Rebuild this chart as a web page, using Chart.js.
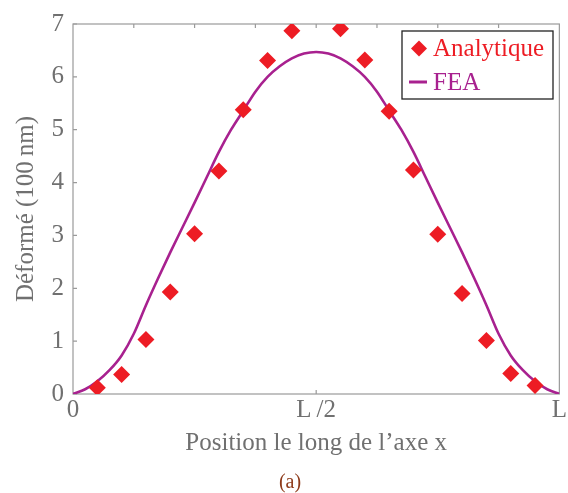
<!DOCTYPE html>
<html><head><meta charset="utf-8">
<script src="https://cdn.jsdelivr.net/npm/chart.js@4/dist/chart.umd.min.js"></script>
<style>html,body{margin:0;padding:0;background:#fff;} #wrap{width:568px;height:493px;position:relative;}</style>
</head><body><div id="wrap"><canvas id="c" width="568" height="493"></canvas></div>
<script>
// ---- data ----
const analytiqueX = [0.05,0.10,0.15,0.20,0.25,0.30,0.35,0.40,0.45,0.55,0.60,0.65,0.70,0.75,0.80,0.85,0.90,0.95];
const analytiqueY = [0.12,0.37,1.03,1.93,3.03,4.22,5.38,6.31,6.87,6.91,6.32,5.35,4.24,3.02,1.90,1.01,0.39,0.16];
const feaX = [0,0.025,0.05,0.075,0.1,0.125,0.15,0.175,0.2,0.225,0.25,0.275,0.3,0.325,0.35,0.375,0.4,0.425,0.45,0.475,0.5,
              0.525,0.55,0.575,0.6,0.625,0.65,0.675,0.7,0.725,0.75,0.775,0.8,0.825,0.85,0.875,0.9,0.925,0.95,0.975,1];
const feaY = [0,0.09,0.24,0.45,0.73,1.14,1.68,2.19,2.68,3.15,3.62,4.10,4.58,5.00,5.36,5.72,6.00,6.20,6.35,6.44,6.47,
              6.44,6.35,6.20,6.00,5.72,5.36,5.00,4.58,4.10,3.62,3.15,2.68,2.19,1.68,1.14,0.73,0.45,0.24,0.09,0];
const xTickValues = [0,0.5,1];
const xTickLabels = ['0','L\u2009/2','L'];
const xMinorTicks = [0.125,0.25,0.375,0.5,0.625,0.75,0.875];
const yTickValues = [0,1,2,3,4,5,6,7];
const seriesNames = ['Analytique','FEA'];
const xTitle = 'Position le long de l\u2019axe x';
const yTitle = 'D\u00e9form\u00e9 (100\u2009nm)';
const caption = '(a)';

// ---- styles ----
const SERIF = "'Liberation Serif','Times New Roman',serif";
const RED = '#ED1C24';
const PURPLE = '#A8218F';
const GREY = '#707070';
const FRAME = '#9a9a9a';

const framePlugin = {
  id: 'frame',
  beforeDatasetsDraw(chart) {
    const {ctx, chartArea: a, scales} = chart;
    ctx.save();
    ctx.strokeStyle = FRAME;
    ctx.lineWidth = 1.2;
    ctx.strokeRect(a.left, a.top, a.right - a.left, a.bottom - a.top);
    ctx.beginPath();
    yTickValues.forEach(v => {
      const y = scales.y.getPixelForValue(v);
      ctx.moveTo(a.left, y); ctx.lineTo(a.left + 4, y);
    });
    xMinorTicks.forEach(v => {
      const x = scales.x.getPixelForValue(v);
      ctx.moveTo(x, a.top); ctx.lineTo(x, a.top + 4);
    });
    const xm = scales.x.getPixelForValue(0.5);
    ctx.moveTo(xm, a.bottom); ctx.lineTo(xm, a.bottom - 4);
    ctx.stroke();
    ctx.restore();
  },
  afterDraw(chart) {
    const {ctx} = chart;
    ctx.save();
    // legend
    const lx = 402, ly = 31, lw = 151, lh = 68;
    ctx.fillStyle = '#fff';
    ctx.fillRect(lx, ly, lw, lh);
    ctx.strokeStyle = '#222';
    ctx.lineWidth = 1.3;
    ctx.strokeRect(lx, ly, lw, lh);
    // diamond
    const dx = 419, dy = 48.5, r = 8;
    ctx.fillStyle = RED;
    ctx.beginPath();
    ctx.moveTo(dx, dy - r); ctx.lineTo(dx + r, dy); ctx.lineTo(dx, dy + r); ctx.lineTo(dx - r, dy); ctx.closePath();
    ctx.fill();
    // line
    ctx.strokeStyle = PURPLE;
    ctx.lineWidth = 3;
    ctx.beginPath(); ctx.moveTo(409, 82); ctx.lineTo(427, 82); ctx.stroke();
    ctx.font = '25px ' + SERIF;
    ctx.textBaseline = 'alphabetic';
    ctx.textAlign = 'left';
    ctx.fillStyle = RED;
    ctx.fillText(seriesNames[0], 433, 56);
    ctx.fillStyle = PURPLE;
    ctx.fillText(seriesNames[1], 433, 90);
    // caption
    ctx.font = '20px ' + SERIF;
    ctx.fillStyle = '#8E3B1B';
    ctx.textAlign = 'center';
    ctx.fillText(caption, 290, 488);
    ctx.restore();
  }
};

new Chart(document.getElementById('c'), {
  type: 'scatter',
  data: {
    datasets: [
      {
        label: seriesNames[0],
        data: analytiqueX.map((x, i) => ({x, y: analytiqueY[i]})),
        pointStyle: 'rectRot',
        pointRadius: 8.5,
        pointBackgroundColor: RED,
        pointBorderColor: RED,
        pointBorderWidth: 0,
        showLine: false,
        order: 0
      },
      {
        label: seriesNames[1],
        data: feaX.map((x, i) => ({x, y: feaY[i]})),
        showLine: true,
        borderColor: PURPLE,
        borderWidth: 2.6,
        pointRadius: 0,
        cubicInterpolationMode: 'monotone',
        order: 1
      }
    ]
  },
  options: {
    responsive: false,
    animation: false,
    devicePixelRatio: 1,
    layout: {padding: {left: 0, right: 8, top: 19, bottom: 0}},
    plugins: {legend: {display: false}, tooltip: {enabled: false}},
    scales: {
      x: {
        type: 'linear', min: 0, max: 1, position: 'bottom',
        afterBuildTicks: s => { s.ticks = xTickValues.map(v => ({value: v})); },
        afterFit: s => { s.height = 99; },
        grid: {display: false, drawTicks: false},
        border: {display: false},
        ticks: {
          autoSkip: false, maxRotation: 0, padding: 1,
          color: GREY, font: {family: SERIF, size: 25},
          callback: (v) => { const i = xTickValues.indexOf(v); return i >= 0 ? xTickLabels[i] : ''; }
        },
        title: {display: true, text: xTitle, color: GREY, font: {family: SERIF, size: 25}, padding: {top: 0, bottom: 35}}
      },
      y: {
        type: 'linear', min: 0, max: 7,
        afterBuildTicks: s => { s.ticks = yTickValues.map(v => ({value: v})); },
        afterFit: s => { s.width = 73; },
        grid: {display: false, drawTicks: false},
        border: {display: false},
        ticks: {padding: 9, color: GREY, font: {family: SERIF, size: 25}},
        title: {display: true, text: yTitle, color: GREY, font: {family: SERIF, size: 25}, padding: {top: 11, bottom: 0}}
      }
    }
  },
  plugins: [framePlugin]
});
</script></body></html>
